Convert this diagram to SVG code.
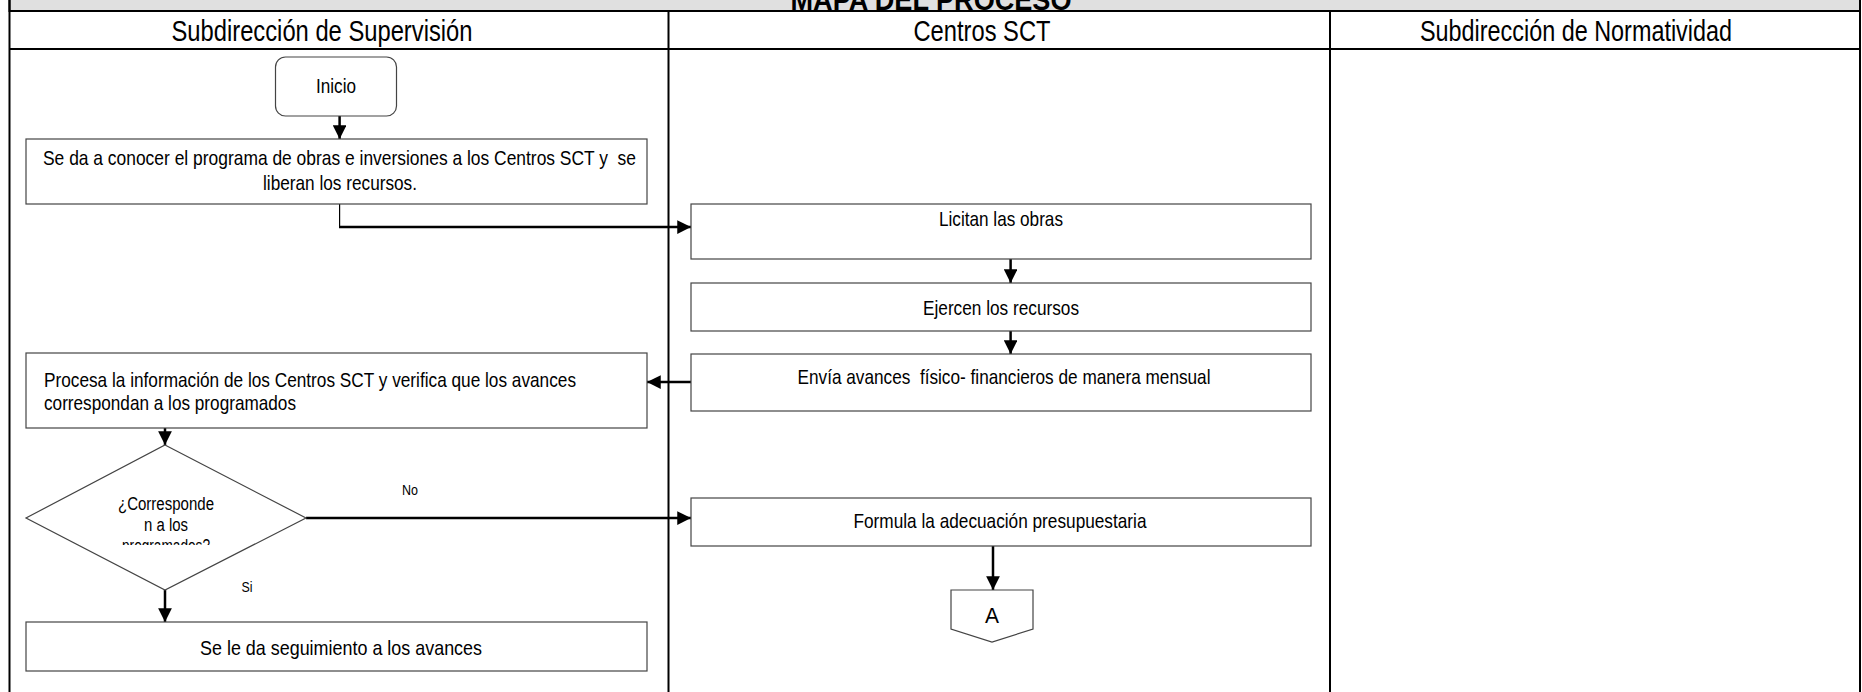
<svg xmlns="http://www.w3.org/2000/svg" width="1862" height="692" viewBox="0 0 1862 692">
<style>
text{font-family:"Liberation Sans Narrow","Arial Narrow","Liberation Sans",Arial,sans-serif;fill:#000}
.lane{font-size:29px;text-anchor:middle}
.t{font-size:21px;text-anchor:middle}
.tl{font-size:21px}
.td{font-size:18px;text-anchor:middle}
.lbl{font-size:15px;text-anchor:middle}
.box{fill:#fff;stroke:#444;stroke-width:1.2}
.grid{stroke:#000;stroke-width:2;fill:none}
.c{stroke:#000;stroke-width:2.5;fill:none}
.cthin{stroke:#000;stroke-width:1.2;fill:none}
</style>
<defs>
<marker id="ah" viewBox="0 0 10 10" refX="10" refY="5" markerWidth="6" markerHeight="5.5" markerUnits="strokeWidth" orient="auto"><path d="M0,0 L10,5 L0,10 z" fill="#000"/></marker>
<clipPath id="dclip"><rect x="26" y="490" width="280" height="55"/></clipPath>
</defs>
<rect x="0" y="0" width="1862" height="692" fill="#fff"/>
<g id="frame">
<rect x="9.5" y="-2" width="1850.5" height="13" fill="#e0e0e0" stroke="#000" stroke-width="2"/>
<text x="931" y="10" textLength="281" lengthAdjust="spacingAndGlyphs" style="font-size:30px;font-weight:bold;text-anchor:middle">MAPA DEL PROCESO</text>
<line class="grid" x1="9.5" y1="11" x2="1860" y2="11"/>
<line class="grid" x1="9.5" y1="49" x2="1860" y2="49"/>
<line class="grid" x1="9.5" y1="0" x2="9.5" y2="692"/>
<line class="grid" x1="668.5" y1="11" x2="668.5" y2="692"/>
<line class="grid" x1="1330" y1="11" x2="1330" y2="692"/>
<line class="grid" x1="1860" y1="0" x2="1860" y2="692"/>
<text class="lane" x="322" y="41" textLength="301" lengthAdjust="spacingAndGlyphs">Subdirección de Supervisión</text>
<text class="lane" x="982" y="41" textLength="137" lengthAdjust="spacingAndGlyphs">Centros SCT</text>
<text class="lane" x="1576" y="41" textLength="312" lengthAdjust="spacingAndGlyphs">Subdirección de Normatividad</text>
</g>
<g id="connectors">
<line class="c" x1="339.6" y1="116" x2="339.6" y2="139" marker-end="url(#ah)"/>
<line class="cthin" x1="339.6" y1="204" x2="339.6" y2="227"/>
<line class="c" x1="339" y1="227" x2="691" y2="227" marker-end="url(#ah)"/>
<line class="c" x1="1010.6" y1="259" x2="1010.6" y2="283" marker-end="url(#ah)"/>
<line class="c" x1="1010.6" y1="331" x2="1010.6" y2="354" marker-end="url(#ah)"/>
<line class="c" x1="691" y1="382" x2="647" y2="382" marker-end="url(#ah)"/>
<line class="c" x1="165" y1="428" x2="165" y2="445" marker-end="url(#ah)"/>
<line class="c" x1="306" y1="518" x2="691" y2="518" marker-end="url(#ah)"/>
<line class="c" x1="165" y1="590" x2="165" y2="622" marker-end="url(#ah)"/>
<line class="c" x1="993" y1="546" x2="993" y2="590" marker-end="url(#ah)"/>
<text class="lbl" x="410" y="495" textLength="16" lengthAdjust="spacingAndGlyphs">No</text>
<text class="lbl" x="247" y="592" textLength="11" lengthAdjust="spacingAndGlyphs">Si</text>
</g>
<g id="inicio">
<rect class="box" x="275.5" y="57" width="121" height="59" rx="10" ry="10"/>
<text class="t" x="336" y="93" textLength="40" lengthAdjust="spacingAndGlyphs">Inicio</text>
</g>
<g id="dar-a-conocer">
<rect class="box" x="26" y="139" width="621" height="65"/>
<text class="t" x="339.5" y="165" xml:space="preserve" textLength="593" lengthAdjust="spacingAndGlyphs">Se da a conocer el programa de obras e inversiones a los Centros SCT y  se</text>
<text class="t" x="340" y="190" textLength="154" lengthAdjust="spacingAndGlyphs">liberan los recursos.</text>
</g>
<g id="licitan">
<rect class="box" x="691" y="204" width="620" height="55"/>
<text class="t" x="1001" y="226" textLength="124" lengthAdjust="spacingAndGlyphs">Licitan las obras</text>
</g>
<g id="ejercen">
<rect class="box" x="691" y="283" width="620" height="48"/>
<text class="t" x="1001" y="315" textLength="156" lengthAdjust="spacingAndGlyphs">Ejercen los recursos</text>
</g>
<g id="envia">
<rect class="box" x="691" y="354" width="620" height="57"/>
<text class="t" x="1004" y="384" xml:space="preserve" textLength="413" lengthAdjust="spacingAndGlyphs">Envía avances  físico- financieros de manera mensual</text>
</g>
<g id="procesa">
<rect class="box" x="26" y="353" width="621" height="75"/>
<text class="tl" x="44" y="387" textLength="532" lengthAdjust="spacingAndGlyphs">Procesa la información de los Centros SCT y verifica que los avances</text>
<text class="tl" x="44" y="410" textLength="252" lengthAdjust="spacingAndGlyphs">correspondan a los programados</text>
</g>
<g id="decision">
<polygon class="box" points="165,445 306,518 165,590 26,518"/>
<g clip-path="url(#dclip)">
<text class="td" x="166" y="510" textLength="96" lengthAdjust="spacingAndGlyphs">¿Corresponde</text>
<text class="td" x="166" y="531" textLength="44" lengthAdjust="spacingAndGlyphs">n a los</text>
<text class="td" x="166" y="552" textLength="88" lengthAdjust="spacingAndGlyphs">programados?</text>
</g>
</g>
<g id="formula">
<rect class="box" x="691" y="498" width="620" height="48"/>
<text class="t" x="1000" y="528" textLength="293" lengthAdjust="spacingAndGlyphs">Formula la adecuación presupuestaria</text>
</g>
<g id="seguimiento">
<rect class="box" x="26" y="622" width="621" height="49"/>
<text class="t" x="341" y="655" textLength="282" lengthAdjust="spacingAndGlyphs">Se le da seguimiento a los avances</text>
</g>
<g id="conector-a">
<polygon class="box" points="951,590 1033,590 1033,629 992,642 951,629"/>
<text x="992" y="623" style="font-size:22px;text-anchor:middle" textLength="14" lengthAdjust="spacingAndGlyphs">A</text>
</g>
</svg>
